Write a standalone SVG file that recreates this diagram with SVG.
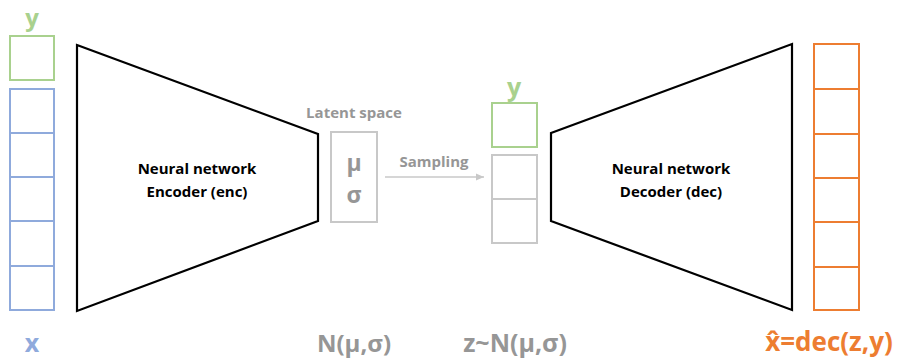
<svg xmlns="http://www.w3.org/2000/svg" width="901" height="358" viewBox="0 0 901 358">
  <defs>
    <style>
      .t { font-family: "Open Sans", "Liberation Sans", sans-serif; font-weight: bold; text-anchor: middle; }
      .net { fill: #ffffff; stroke: #000000; stroke-width: 2.2; stroke-linejoin: miter; }
      .cell { fill: #ffffff; stroke-width: 2; }
      .green { stroke: #a9d18e; }
      .blue { stroke: #8faadc; }
      .orange { stroke: #ed7d31; }
      .gray { stroke: #c8c8c8; }
      .lbl { font-size: 15px; fill: #000000; }
      .glbl { fill: #969696; }
    </style>
    <marker id="arrow" viewBox="0 0 10 10" refX="9" refY="5" markerWidth="6" markerHeight="6" orient="auto">
      <path d="M0,1 L9,5 L0,9 Z" fill="#c8c8c8"/>
    </marker>
  </defs>

  <!-- input: condition y and data x -->
  <g id="input-y">
    <text class="t" x="32" y="26" font-size="24" fill="#a9d18e">y</text>
    <rect class="cell green" x="10" y="36" width="44" height="44"/>
  </g>
  <g id="input-x">
    <rect class="cell blue" x="10" y="89" width="44" height="44"/>
    <rect class="cell blue" x="10" y="133" width="44" height="44"/>
    <rect class="cell blue" x="10" y="177" width="44" height="44"/>
    <rect class="cell blue" x="10" y="221" width="44" height="45"/>
    <rect class="cell blue" x="10" y="266" width="44" height="44"/>
    <text class="t" x="32" y="352" font-size="25" fill="#8faadc">x</text>
  </g>

  <!-- encoder -->
  <g id="encoder">
    <polygon class="net" points="77,45 318,134 318,221 77,311"/>
    <text class="t lbl" x="197" y="174">Neural network</text>
    <text class="t lbl" x="197" y="197">Encoder (enc)</text>
  </g>

  <!-- latent distribution -->
  <g id="latent">
    <text class="t glbl" x="354" y="118" font-size="15">Latent space</text>
    <rect class="cell gray" x="331" y="132" width="46" height="90"/>
    <text class="t glbl" x="354" y="171" font-size="23">μ</text>
    <text class="t glbl" x="354" y="203" font-size="23">σ</text>
    <text class="t glbl" x="354" y="352" font-size="24">N(μ,σ)</text>
  </g>

  <!-- sampled code z with condition y -->
  <g id="latent-sample">
    <text class="t" x="514" y="96" font-size="25" fill="#a9d18e">y</text>
    <rect class="cell green" x="492" y="103" width="45" height="44"/>
    <rect class="cell gray" x="492" y="155" width="45" height="44"/>
    <rect class="cell gray" x="492" y="199" width="45" height="44"/>
    <text class="t glbl" x="515" y="352" font-size="25">z~N(μ,σ)</text>
  </g>

  <!-- decoder -->
  <g id="decoder">
    <polygon class="net" points="551,133 792,44 792,310 551,221"/>
    <text class="t lbl" x="671" y="174">Neural network</text>
    <text class="t lbl" x="671" y="197">Decoder (dec)</text>
  </g>

  <!-- reconstruction -->
  <g id="output">
    <rect class="cell orange" x="814" y="44" width="45" height="45"/>
    <rect class="cell orange" x="814" y="89" width="45" height="45"/>
    <rect class="cell orange" x="814" y="134" width="45" height="44"/>
    <rect class="cell orange" x="814" y="178" width="45" height="44"/>
    <rect class="cell orange" x="814" y="222" width="45" height="45"/>
    <rect class="cell orange" x="814" y="267" width="45" height="43"/>
    <text class="t" x="829" y="351" font-size="26" fill="#ed7d31">x̂=dec(z,y)</text>
  </g>

  <!-- connectors -->
  <g id="connectors">
    <line x1="385" y1="177" x2="484" y2="177" stroke="#c8c8c8" stroke-width="1.5" marker-end="url(#arrow)"/>
    <text class="t glbl" x="434" y="167" font-size="15">Sampling</text>
  </g>
</svg>
